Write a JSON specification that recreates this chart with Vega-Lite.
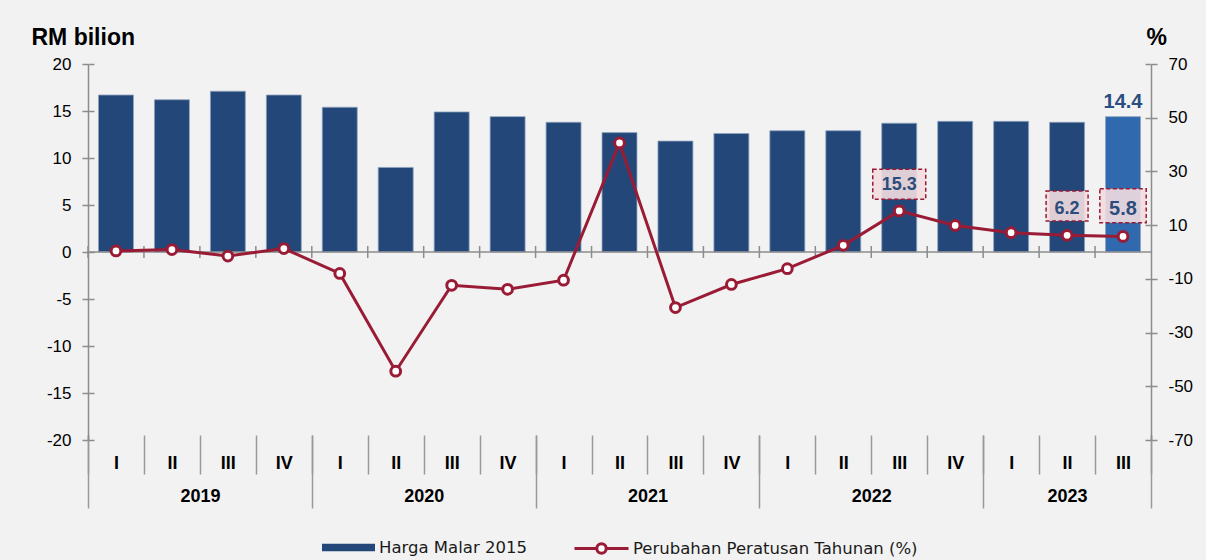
{
  "$schema": "https://vega.github.io/schema/vega-lite/v6.json",
  "autosize": {"type": "none"},
  "width": 1063,
  "height": 376,
  "padding": {"left": 88, "top": 64, "right": 55, "bottom": 120},
  "background": "#f2f2f2",
  "config": {"view": {"stroke": null}, "font": "Liberation Sans", "axis": {"grid": false}},
  "data": {"values": [
    {"q": "2019-I", "val": 16.7, "pct": 0.4},
    {"q": "2019-II", "val": 16.2, "pct": 0.9},
    {"q": "2019-III", "val": 17.1, "pct": -1.5},
    {"q": "2019-IV", "val": 16.7, "pct": 1.3},
    {"q": "2020-I", "val": 15.4, "pct": -8.0},
    {"q": "2020-II", "val": 9.0, "pct": -44.4},
    {"q": "2020-III", "val": 14.9, "pct": -12.4},
    {"q": "2020-IV", "val": 14.4, "pct": -13.9},
    {"q": "2021-I", "val": 13.8, "pct": -10.5},
    {"q": "2021-II", "val": 12.7, "pct": 40.6},
    {"q": "2021-III", "val": 11.8, "pct": -20.7},
    {"q": "2021-IV", "val": 12.6, "pct": -12.1},
    {"q": "2022-I", "val": 12.9, "pct": -6.2},
    {"q": "2022-II", "val": 12.9, "pct": 2.5},
    {"q": "2022-III", "val": 13.7, "pct": 15.3},
    {"q": "2022-IV", "val": 13.9, "pct": 9.9},
    {"q": "2023-I", "val": 13.9, "pct": 7.2},
    {"q": "2023-II", "val": 13.8, "pct": 6.2},
    {"q": "2023-III", "val": 14.4, "pct": 5.8}
  ]},
  "resolve": {"scale": {"y": "independent"}, "axis": {"x": "independent", "y": "independent"}},
  "layer": [
    {
      "mark": {"type": "bar", "width": {"band": 0.625}, "stroke": "#8ea3bf", "strokeWidth": 0.8},
      "encoding": {
        "x": {
          "field": "q", "type": "nominal", "sort": null,
          "scale": {
            "domain": ["2019-I","2019-II","2019-III","2019-IV","2020-I","2020-II","2020-III","2020-IV","2021-I","2021-II","2021-III","2021-IV","2022-I","2022-II","2022-III","2022-IV","2023-I","2023-II","2023-III"],
            "paddingInner": 0, "paddingOuter": 0
          },
          "axis": {
            "orient": "bottom", "offset": -5, "domain": false, "tickBand": "extent",
            "tickSize": 39, "tickColor": "#9a9a9a", "tickWidth": 1.5,
            "labelExpr": "split(datum.value, '-')[1]",
            "labelFont": "Liberation Sans", "labelFontWeight": "bold", "labelFontSize": 18,
            "labelColor": "#000000", "labelBaseline": "middle", "labelPadding": -11,
            "labelAngle": 0, "labelOverlap": false, "title": null
          }
        },
        "y": {
          "field": "val", "type": "quantitative",
          "scale": {"domain": [-20, 20], "nice": false},
          "axis": {
            "orient": "left", "values": [-20, -15, -10, -5, 0, 5, 10, 15, 20],
            "labelExpr": "replace(datum.label, '\u2212', '-')",
            "domain": true, "domainColor": "#8c8c8c", "domainWidth": 1.5,
            "tickColor": "#8c8c8c", "tickWidth": 1.5, "tickSize": 6,
            "labelFont": "Liberation Sans", "labelFontSize": 17, "labelColor": "#000000", "labelPadding": 11,
            "title": "RM bilion", "titleFont": "Liberation Sans", "titleFontSize": 23, "titleFontWeight": "bold",
            "titleColor": "#000000", "titleAngle": 0, "titleAlign": "left", "titleBaseline": "alphabetic",
            "titleX": -57, "titleY": -20
          }
        },
        "fill": {
          "datum": "Harga Malar 2015", "type": "nominal",
          "scale": {"domain": ["Harga Malar 2015"], "range": ["#234779"]},
          "condition": {"test": "datum.q === '2023-III'", "value": "#3169ae"},
          "legend": {
            "orient": "none", "legendX": 234, "legendY": 457, "title": null, "padding": 0,
            "symbolType": "M-1,-0.14H1V0.14H-1Z", "symbolSize": 2809, "symbolStrokeWidth": 0,
            "labelFont": "DejaVu Sans", "labelFontSize": 16.5, "labelColor": "#1a1a1a", "labelOffset": 4, "labelLimit": 500
          }
        }
      }
    },
    {
      "data": {"values": [{}]},
      "mark": {"type": "rule", "color": "#8c8c8c", "strokeWidth": 1.5},
      "encoding": {
        "y": {"datum": 0, "type": "quantitative", "scale": {"domain": [-20, 20], "nice": false}, "axis": null}
      }
    },
    {
      "mark": {"type": "tick", "orient": "vertical", "size": 12, "thickness": 1.5, "color": "#8c8c8c", "opacity": 1},
      "encoding": {
        "x": {"field": "q", "type": "nominal", "sort": null, "bandPosition": 0, "axis": null},
        "y": {
          "datum": 0, "type": "quantitative", "scale": {"domain": [-20, 20], "nice": false},
          "axis": {
            "orient": "left", "values": [-20, -15, -10, -5, 0, 5, 10, 15, 20], "offset": -6,
            "domain": false, "labels": false, "tickSize": 6, "tickColor": "#8c8c8c", "tickWidth": 1.5, "title": null
          }
        }
      }
    },
    {
      "transform": [{"filter": "datum.q === '2023-III'"}],
      "mark": {"type": "text", "font": "Liberation Sans", "fontSize": 20, "fontWeight": "bold", "color": "#2a4e80", "baseline": "alphabetic", "dy": -9},
      "encoding": {
        "x": {"field": "q", "type": "nominal", "sort": null, "axis": null},
        "y": {"field": "val", "type": "quantitative", "scale": {"domain": [-20, 20], "nice": false}, "axis": null},
        "text": {"field": "val", "type": "quantitative", "format": ".1f"}
      }
    },
    {
      "mark": {"type": "line", "strokeWidth": 3},
      "encoding": {
        "x": {
          "field": "q", "type": "nominal", "sort": null,
          "axis": {
            "orient": "bottom", "offset": -5, "domain": false, "tickBand": "extent",
            "tickSize": 73, "tickColor": "#9a9a9a", "tickWidth": 1.5,
            "tickOpacity": {"condition": {"test": "datum.index < 0 || indexof(['2019-IV','2020-IV','2021-IV','2022-IV','2023-III'], datum.value) >= 0", "value": 1}, "value": 0},
            "labelExpr": "split(datum.value, '-')[1] === 'II' ? split(datum.value, '-')[0] : ''",
            "labelOffset": {"condition": {"test": "datum.value === '2023-II'", "value": 0}, "value": 28},
            "labelFont": "Liberation Sans", "labelFontWeight": "bold", "labelFontSize": 18,
            "labelColor": "#000000", "labelBaseline": "middle", "labelPadding": -12,
            "labelAngle": 0, "labelOverlap": false, "title": null
          }
        },
        "y": {
          "field": "pct", "type": "quantitative",
          "scale": {"domain": [-70, 70], "nice": false},
          "axis": {
            "orient": "right", "values": [-70, -50, -30, -10, 10, 30, 50, 70],
            "labelExpr": "replace(datum.label, '\u2212', '-')",
            "domain": true, "domainColor": "#8c8c8c", "domainWidth": 1.5,
            "tickColor": "#8c8c8c", "tickWidth": 1.5, "tickSize": 6,
            "labelFont": "Liberation Sans", "labelFontSize": 17, "labelColor": "#000000", "labelPadding": 11,
            "title": "%", "titleFont": "Liberation Sans", "titleFontSize": 23, "titleFontWeight": "bold",
            "titleColor": "#000000", "titleAngle": 0, "titleAlign": "left", "titleBaseline": "alphabetic",
            "titleX": -5, "titleY": -20
          }
        },
        "stroke": {
          "datum": "Perubahan Peratusan Tahunan (%)", "type": "nominal",
          "scale": {"domain": ["Perubahan Peratusan Tahunan (%)"], "range": ["#9a1b35"]},
          "legend": {
            "orient": "none", "legendX": 485, "legendY": 456, "title": null, "padding": 0,
            "symbolType": "M-1,0H-0.174M0.174,0H1M0.174,0A0.174,0.174 0 1 1 -0.174,0A0.174,0.174 0 1 1 0.174,0",
            "symbolSize": 2916, "symbolStrokeWidth": 3, "symbolFillColor": "#ffffff",
            "labelFont": "DejaVu Sans", "labelFontSize": 16.5, "labelColor": "#1a1a1a", "labelOffset": 3, "labelLimit": 500
          }
        }
      }
    },
    {
      "mark": {"type": "point", "shape": "circle", "filled": true, "fill": "#ffffff", "stroke": "#9a1b35", "strokeWidth": 3, "size": 95, "opacity": 1},
      "encoding": {
        "x": {"field": "q", "type": "nominal", "sort": null, "axis": null},
        "y": {
          "field": "pct", "type": "quantitative", "scale": {"domain": [-70, 70], "nice": false},
          "axis": {
            "orient": "right", "values": [-70, -50, -30, -10, 10, 30, 50, 70], "offset": -6,
            "domain": false, "labels": false, "tickSize": 6, "tickColor": "#8c8c8c", "tickWidth": 1.5, "title": null
          }
        }
      }
    },
    {
      "transform": [{"filter": "indexof(['2022-III','2023-II','2023-III'], datum.q) >= 0"}],
      "mark": {"type": "point", "filled": true, "fill": "#f3dde0", "fillOpacity": 0.9, "opacity": 1, "stroke": "#9a1b35", "strokeWidth": 1.5, "strokeDash": [4, 2.5], "size": 2809},
      "encoding": {
        "x": {"field": "q", "type": "nominal", "sort": null, "axis": null},
        "y": {"field": "pct", "type": "quantitative", "scale": {"domain": [-70, 70], "nice": false}, "axis": null},
        "shape": {
          "field": "q", "type": "nominal", "legend": null,
          "scale": {
            "domain": ["2022-III", "2023-II", "2023-III"],
            "range": ["M-1,-1.574H1V-0.442H-1Z", "M-0.792,-1.672H0.792V-0.540H-0.792Z", "M-0.875,-1.797H0.875V-0.513H-0.875Z"]
          }
        }
      }
    },
    {
      "transform": [{"filter": "indexof(['2022-III','2023-II','2023-III'], datum.q) >= 0"}],
      "mark": {"type": "text", "font": "Liberation Sans", "fontWeight": "bold", "color": "#2c4c7c", "baseline": "alphabetic", "dy": -21},
      "encoding": {
        "x": {"field": "q", "type": "nominal", "sort": null, "axis": null},
        "y": {"field": "pct", "type": "quantitative", "scale": {"domain": [-70, 70], "nice": false}, "axis": null},
        "text": {"field": "pct", "type": "quantitative", "format": ".1f"},
        "size": {"condition": {"test": "datum.q === '2023-III'", "value": 20}, "value": 18}
      }
    }
  ]
}
